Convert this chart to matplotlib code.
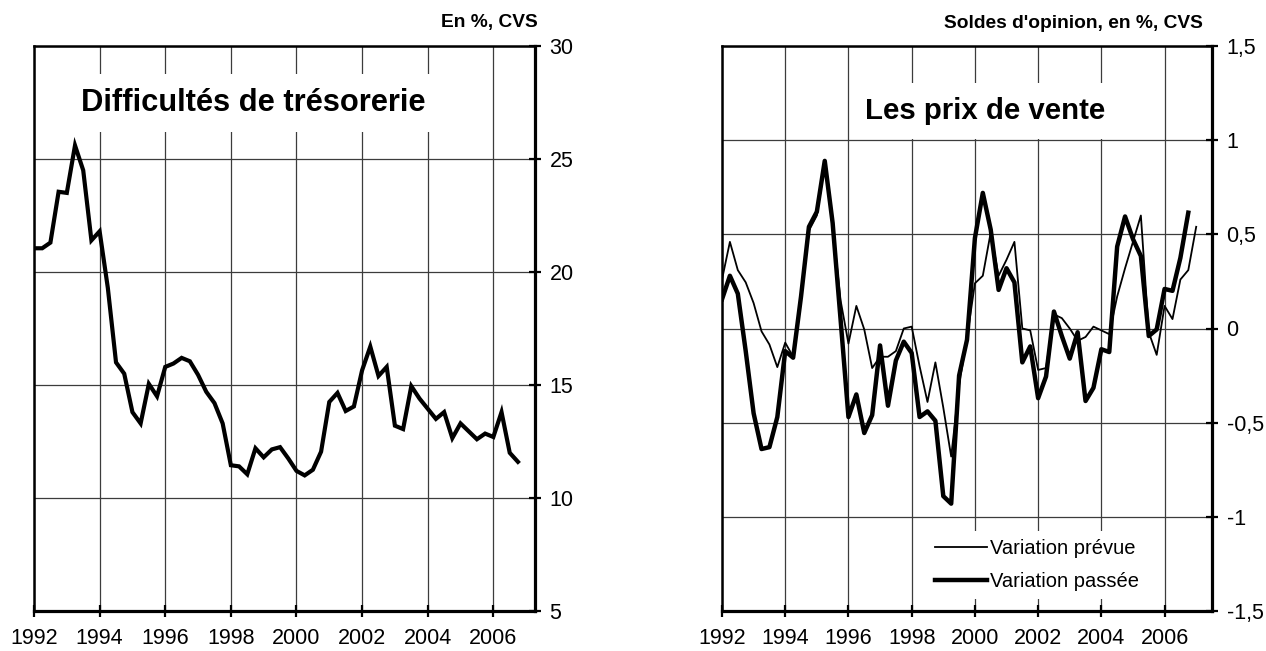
import numpy as np
import matplotlib
matplotlib.use("Agg")
import matplotlib.pyplot as plt

plt.rcParams["font.family"] = ["Liberation Sans", "DejaVu Sans"]

# Difficultés de trésorerie, trimestriel 1992T1 - 2006T4 (en %, CVS)
tresorerie = [
    21.05, 21.05, 21.3, 23.55,
    23.5, 25.6, 24.5, 21.4,
    21.8, 19.3, 16.0, 15.5,
    13.8, 13.3, 15.05, 14.5,
    15.8, 15.95, 16.2, 16.05,
    15.45, 14.7, 14.2, 13.3,
    11.45, 11.4, 11.05, 12.2,
    11.8, 12.15, 12.25, 11.75,
    11.2, 11.0, 11.25, 12.05,
    14.25, 14.65, 13.85, 14.05,
    15.65, 16.7, 15.4, 15.8,
    13.2, 13.05, 14.95, 14.4,
    13.95, 13.5, 13.8, 12.65,
    13.3, 12.95, 12.6, 12.85,
    12.7, 13.8, 12.0, 11.6,
]

# Prix de vente, soldes d'opinion (en %, CVS)
prix_prevue = [  # 1992T1 - 2007T1
    0.26, 0.46, 0.31, 0.245,
    0.135, -0.015, -0.085, -0.205,
    -0.075, -0.15, 0.17, 0.52,
    0.6, 0.87, 0.55, 0.15,
    -0.08, 0.12, -0.005, -0.21,
    -0.15, -0.15, -0.12, 0.0,
    0.01, -0.2, -0.39, -0.18,
    -0.42, -0.68, -0.3, -0.05,
    0.24, 0.28, 0.51, 0.28,
    0.365, 0.46, 0.0, -0.01,
    -0.22, -0.21, 0.075, 0.055,
    0.0, -0.065, -0.045, 0.01,
    -0.01, -0.03, 0.17, 0.32,
    0.46, 0.6, -0.02, -0.14,
    0.12, 0.05, 0.26, 0.31,
    0.54,
]
prix_passee = [  # 1992T1 - 2006T4
    0.155, 0.28, 0.185, -0.12,
    -0.45, -0.64, -0.63, -0.47,
    -0.12, -0.155, 0.17, 0.54,
    0.62, 0.89, 0.56, 0.05,
    -0.47, -0.35, -0.555, -0.46,
    -0.09, -0.41, -0.17, -0.07,
    -0.13, -0.47, -0.44, -0.49,
    -0.89, -0.93, -0.25, -0.06,
    0.48, 0.72, 0.525, 0.205,
    0.32, 0.245, -0.18, -0.095,
    -0.37, -0.255, 0.09, -0.04,
    -0.16, -0.02, -0.385, -0.315,
    -0.11, -0.125, 0.435, 0.595,
    0.475, 0.385, -0.04, -0.005,
    0.21, 0.2, 0.375, 0.615,
]

year_ticks = list(range(1992, 2007, 2))
left_yticks = [5, 10, 15, 20, 25, 30]
right_yticks = [-1.5, -1, -0.5, 0, 0.5, 1, 1.5]


def quarters(values):
    return 1992 + np.arange(len(values)) / 4


def style(ax, xmax, yticks):
    ax.set_xlim(1992, xmax)
    ax.set_ylim(yticks[0], yticks[-1])
    ax.set_xticks(year_ticks)
    ax.set_yticks(yticks)
    ax.set_yticklabels([f"{v:g}".replace(".", ",") for v in yticks])
    ax.yaxis.tick_right()
    ax.tick_params(direction="inout", length=9, width=1.6, labelsize=15.5, pad=6)
    ax.tick_params(axis="x", pad=8)
    ax.grid(True, color="#3c3c3c", linewidth=0.9)
    ax.set_axisbelow(True)
    for side in ["left", "top"]:
        ax.spines[side].set_linewidth(1.8)
    for side in ["right", "bottom"]:
        ax.spines[side].set_linewidth(2.3)


fig = plt.figure(figsize=(12.66, 6.51), dpi=100)
ax1 = fig.add_axes([34 / 1266, 1 - 611 / 651, 501 / 1266, 565 / 651])
ax2 = fig.add_axes([722 / 1266, 1 - 611 / 651, 490 / 1266, 565 / 651])

ax1.plot(quarters(tresorerie), tresorerie, color="black", lw=3.0, solid_joinstyle="miter")
style(ax1, 2007.27, left_yticks)
ax1.text(0.437, 0.899, "Difficultés de trésorerie", transform=ax1.transAxes,
         ha="center", va="center", fontsize=22.2, fontweight="bold",
         bbox=dict(facecolor="white", edgecolor="none", pad=10), zorder=3)
fig.text(538 / 1266, 1 - 22 / 651, "En %, CVS", ha="right", va="center",
         fontsize=13.8, fontweight="bold")

ax2.plot(quarters(prix_prevue), prix_prevue, color="black", lw=1.3, label="Variation prévue")
ax2.plot(quarters(prix_passee), prix_passee, color="black", lw=3.2, label="Variation passée")
style(ax2, 2007.5, right_yticks)
ax2.text(0.537, 0.885, "Les prix de vente", transform=ax2.transAxes,
         ha="center", va="center", fontsize=21.2, fontweight="bold",
         bbox=dict(facecolor="white", edgecolor="none", pad=10), zorder=3)
fig.text(1203 / 1266, 1 - 23 / 651, "Soldes d'opinion, en %, CVS", ha="right", va="center",
         fontsize=13.8, fontweight="bold")
leg = ax2.legend(loc="center", bbox_to_anchor=(0.643, 0.082), fontsize=14.5, frameon=True,
                 handlelength=2.6, handletextpad=0.15, labelspacing=0.7,
                 borderpad=0.4, fancybox=False)
leg.get_frame().set_edgecolor("none")
leg.get_frame().set_facecolor("white")
leg.get_frame().set_alpha(1)

fig.savefig("out.png", dpi=100)
